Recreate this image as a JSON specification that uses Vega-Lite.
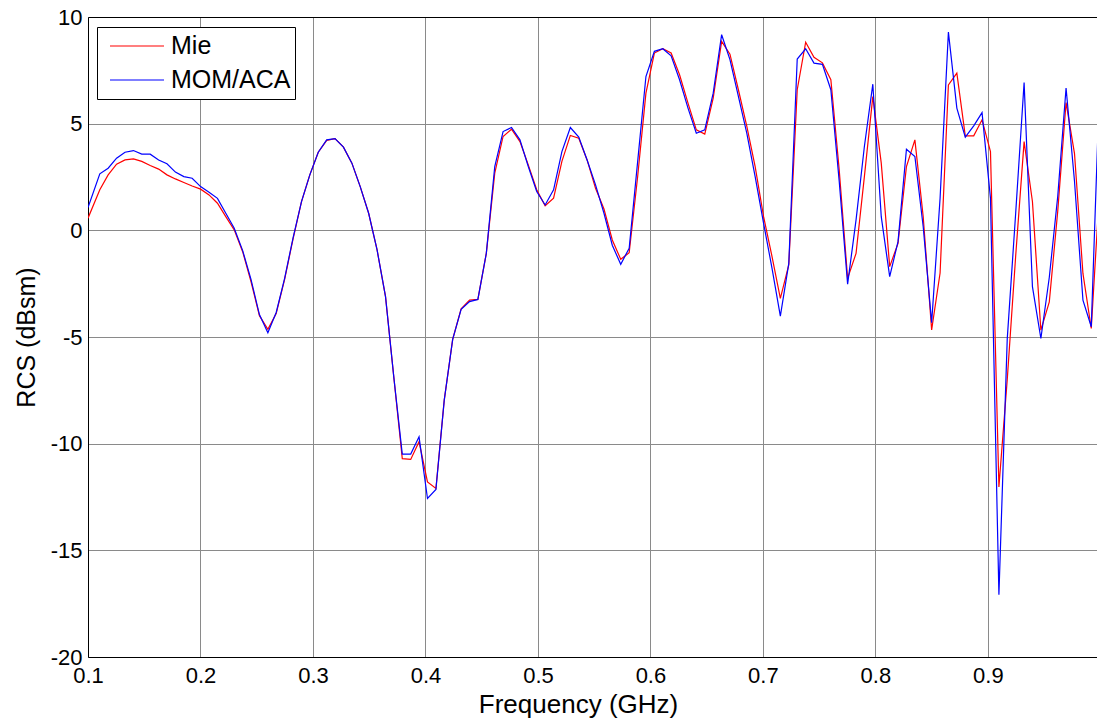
{
  "$schema": "https://vega.github.io/schema/vega-lite/v6.json",
  "width": 1009,
  "height": 640,
  "autosize": {"type": "none"},
  "padding": {"left": 88, "top": 17, "right": 0, "bottom": 64},
  "background": "white",
  "config": {"view": {"stroke": null}, "font": "Liberation Sans"},
  "data": {"values": [
    {"f": 0.1, "Mie": 0.57, "MOM/ACA": 1.07},
    {"f": 0.1105, "Mie": 1.9, "MOM/ACA": 2.65},
    {"f": 0.1179, "Mie": 2.6, "MOM/ACA": 2.91},
    {"f": 0.1254, "Mie": 3.1, "MOM/ACA": 3.38},
    {"f": 0.1329, "Mie": 3.3, "MOM/ACA": 3.66},
    {"f": 0.1404, "Mie": 3.35, "MOM/ACA": 3.74},
    {"f": 0.1478, "Mie": 3.23, "MOM/ACA": 3.57},
    {"f": 0.1553, "Mie": 3.04, "MOM/ACA": 3.57},
    {"f": 0.1628, "Mie": 2.87, "MOM/ACA": 3.3},
    {"f": 0.1702, "Mie": 2.6, "MOM/ACA": 3.12},
    {"f": 0.1777, "Mie": 2.41, "MOM/ACA": 2.73},
    {"f": 0.1852, "Mie": 2.24, "MOM/ACA": 2.52},
    {"f": 0.1926, "Mie": 2.08, "MOM/ACA": 2.44},
    {"f": 0.2001, "Mie": 1.93, "MOM/ACA": 2.05},
    {"f": 0.2076, "Mie": 1.66, "MOM/ACA": 1.79},
    {"f": 0.2151, "Mie": 1.27, "MOM/ACA": 1.5},
    {"f": 0.2225, "Mie": 0.64, "MOM/ACA": 0.8},
    {"f": 0.23, "Mie": 0.02, "MOM/ACA": 0.1},
    {"f": 0.2375, "Mie": -1.0, "MOM/ACA": -0.95},
    {"f": 0.2449, "Mie": -2.4, "MOM/ACA": -2.3},
    {"f": 0.2524, "Mie": -4.0, "MOM/ACA": -3.95},
    {"f": 0.2599, "Mie": -4.64, "MOM/ACA": -4.8},
    {"f": 0.2673, "Mie": -3.9, "MOM/ACA": -3.85},
    {"f": 0.2748, "Mie": -2.3, "MOM/ACA": -2.25},
    {"f": 0.2823, "Mie": -0.4, "MOM/ACA": -0.35},
    {"f": 0.2898, "Mie": 1.35, "MOM/ACA": 1.35},
    {"f": 0.2972, "Mie": 2.6, "MOM/ACA": 2.6},
    {"f": 0.3047, "Mie": 3.66, "MOM/ACA": 3.66},
    {"f": 0.3122, "Mie": 4.22, "MOM/ACA": 4.24},
    {"f": 0.3196, "Mie": 4.3, "MOM/ACA": 4.3},
    {"f": 0.3271, "Mie": 3.9, "MOM/ACA": 3.9},
    {"f": 0.3346, "Mie": 3.15, "MOM/ACA": 3.15},
    {"f": 0.342, "Mie": 2.05, "MOM/ACA": 2.05},
    {"f": 0.3495, "Mie": 0.8, "MOM/ACA": 0.8},
    {"f": 0.357, "Mie": -0.92, "MOM/ACA": -0.92},
    {"f": 0.3645, "Mie": -3.11, "MOM/ACA": -3.11},
    {"f": 0.3719, "Mie": -6.9, "MOM/ACA": -6.9},
    {"f": 0.3794, "Mie": -10.7, "MOM/ACA": -10.49},
    {"f": 0.3869, "Mie": -10.74, "MOM/ACA": -10.49},
    {"f": 0.3943, "Mie": -9.91, "MOM/ACA": -9.68},
    {"f": 0.4018, "Mie": -11.79, "MOM/ACA": -12.57},
    {"f": 0.4093, "Mie": -12.1, "MOM/ACA": -12.15},
    {"f": 0.4167, "Mie": -7.96, "MOM/ACA": -7.96},
    {"f": 0.4242, "Mie": -5.11, "MOM/ACA": -5.11},
    {"f": 0.4317, "Mie": -3.68, "MOM/ACA": -3.7},
    {"f": 0.4392, "Mie": -3.27, "MOM/ACA": -3.34},
    {"f": 0.4466, "Mie": -3.24, "MOM/ACA": -3.24},
    {"f": 0.4541, "Mie": -1.08, "MOM/ACA": -1.08},
    {"f": 0.4616, "Mie": 2.68, "MOM/ACA": 2.99},
    {"f": 0.469, "Mie": 4.4, "MOM/ACA": 4.63},
    {"f": 0.4765, "Mie": 4.74, "MOM/ACA": 4.82},
    {"f": 0.484, "Mie": 4.16, "MOM/ACA": 4.24},
    {"f": 0.4914, "Mie": 3.07, "MOM/ACA": 2.99},
    {"f": 0.4989, "Mie": 1.9, "MOM/ACA": 1.82},
    {"f": 0.5064, "Mie": 1.15, "MOM/ACA": 1.19},
    {"f": 0.5139, "Mie": 1.51, "MOM/ACA": 1.9},
    {"f": 0.5213, "Mie": 3.23, "MOM/ACA": 3.69},
    {"f": 0.5288, "Mie": 4.45, "MOM/ACA": 4.82},
    {"f": 0.5363, "Mie": 4.32, "MOM/ACA": 4.37},
    {"f": 0.5437, "Mie": 3.3, "MOM/ACA": 3.3},
    {"f": 0.5512, "Mie": 1.97, "MOM/ACA": 2.13},
    {"f": 0.5587, "Mie": 1.0, "MOM/ACA": 0.8},
    {"f": 0.5661, "Mie": -0.45, "MOM/ACA": -0.7},
    {"f": 0.5736, "Mie": -1.36, "MOM/ACA": -1.59},
    {"f": 0.5811, "Mie": -1.05, "MOM/ACA": -0.84},
    {"f": 0.5886, "Mie": 2.5, "MOM/ACA": 3.2},
    {"f": 0.596, "Mie": 6.43, "MOM/ACA": 7.21},
    {"f": 0.6035, "Mie": 8.31, "MOM/ACA": 8.39},
    {"f": 0.611, "Mie": 8.51, "MOM/ACA": 8.51},
    {"f": 0.6184, "Mie": 8.31, "MOM/ACA": 8.18},
    {"f": 0.6259, "Mie": 7.29, "MOM/ACA": 7.06},
    {"f": 0.6334, "Mie": 5.96, "MOM/ACA": 5.73},
    {"f": 0.6408, "Mie": 4.71, "MOM/ACA": 4.55},
    {"f": 0.6483, "Mie": 4.51, "MOM/ACA": 4.71},
    {"f": 0.6558, "Mie": 6.2, "MOM/ACA": 6.43},
    {"f": 0.6633, "Mie": 8.86, "MOM/ACA": 9.17},
    {"f": 0.6707, "Mie": 8.26, "MOM/ACA": 8.0},
    {"f": 0.6782, "Mie": 6.59, "MOM/ACA": 6.28},
    {"f": 0.6857, "Mie": 4.87, "MOM/ACA": 4.55},
    {"f": 0.6931, "Mie": 2.99, "MOM/ACA": 2.52},
    {"f": 0.7006, "Mie": 0.64, "MOM/ACA": 0.33},
    {"f": 0.7081, "Mie": -1.23, "MOM/ACA": -1.78},
    {"f": 0.7155, "Mie": -3.19, "MOM/ACA": -4.02},
    {"f": 0.723, "Mie": -1.62, "MOM/ACA": -1.55},
    {"f": 0.7305, "Mie": 6.59, "MOM/ACA": 8.03},
    {"f": 0.738, "Mie": 8.82, "MOM/ACA": 8.51},
    {"f": 0.7454, "Mie": 8.11, "MOM/ACA": 7.84},
    {"f": 0.7529, "Mie": 7.85, "MOM/ACA": 7.78},
    {"f": 0.7604, "Mie": 7.06, "MOM/ACA": 6.59},
    {"f": 0.7678, "Mie": 2.85, "MOM/ACA": 2.32},
    {"f": 0.7753, "Mie": -2.25, "MOM/ACA": -2.52},
    {"f": 0.7828, "Mie": -1.08, "MOM/ACA": 0.49},
    {"f": 0.7902, "Mie": 2.52, "MOM/ACA": 3.93},
    {"f": 0.7977, "Mie": 6.27, "MOM/ACA": 6.85},
    {"f": 0.8052, "Mie": 3.15, "MOM/ACA": 0.64},
    {"f": 0.8127, "Mie": -1.7, "MOM/ACA": -2.17},
    {"f": 0.8201, "Mie": -0.61, "MOM/ACA": -0.53},
    {"f": 0.8276, "Mie": 2.99, "MOM/ACA": 3.8},
    {"f": 0.8351, "Mie": 4.24, "MOM/ACA": 3.46},
    {"f": 0.8425, "Mie": 0.64, "MOM/ACA": 0.17},
    {"f": 0.85, "Mie": -4.67, "MOM/ACA": -4.33},
    {"f": 0.8575, "Mie": -2.0, "MOM/ACA": 1.5},
    {"f": 0.8649, "Mie": 6.82, "MOM/ACA": 9.29},
    {"f": 0.8724, "Mie": 7.37, "MOM/ACA": 5.73},
    {"f": 0.8799, "Mie": 4.43, "MOM/ACA": 4.37},
    {"f": 0.8874, "Mie": 4.43, "MOM/ACA": 4.9},
    {"f": 0.8948, "Mie": 5.18, "MOM/ACA": 5.52},
    {"f": 0.9023, "Mie": 3.69, "MOM/ACA": 1.5},
    {"f": 0.9098, "Mie": -12.03, "MOM/ACA": -17.08},
    {"f": 0.9172, "Mie": -7.0, "MOM/ACA": -5.1},
    {"f": 0.9247, "Mie": -1.2, "MOM/ACA": 0.8},
    {"f": 0.9322, "Mie": 4.16, "MOM/ACA": 6.93},
    {"f": 0.9396, "Mie": 1.35, "MOM/ACA": -2.64},
    {"f": 0.9471, "Mie": -4.68, "MOM/ACA": -5.07},
    {"f": 0.9546, "Mie": -3.35, "MOM/ACA": -2.2},
    {"f": 0.9621, "Mie": 0.9, "MOM/ACA": 1.6},
    {"f": 0.9695, "Mie": 5.99, "MOM/ACA": 6.67},
    {"f": 0.977, "Mie": 3.6, "MOM/ACA": 2.3},
    {"f": 0.9845, "Mie": -2.02, "MOM/ACA": -3.27},
    {"f": 0.9919, "Mie": -4.6, "MOM/ACA": -4.52},
    {"f": 0.9994, "Mie": 2.0, "MOM/ACA": 7.0}
  ]},
  "transform": [{"fold": ["Mie", "MOM/ACA"], "as": ["series", "rcs"]}],
  "layer": [
    {
      "mark": {"type": "line", "strokeWidth": 1.2, "clip": true},
      "encoding": {
        "x": {
          "field": "f", "type": "quantitative",
          "scale": {"domain": [0.1, 0.997], "nice": false, "zero": false},
          "axis": {
            "values": [0.1, 0.2, 0.3, 0.4, 0.5, 0.6, 0.7, 0.8, 0.9],
            "format": ".1f",
            "grid": true, "gridColor": "#8a8a8a", "gridOpacity": 1, "gridWidth": 1,
            "ticks": false,
            "domainColor": "black", "domainWidth": 1,
            "labelFont": "Liberation Sans", "labelFontSize": 22, "labelColor": "black",
            "labelPadding": 8, "labelFlush": false,
            "title": "Frequency (GHz)", "titleFont": "Liberation Sans", "titleFontSize": 26,
            "titleFontWeight": "normal", "titleColor": "black", "titlePadding": 5,
            "titleX": 490
          }
        },
        "y": {
          "field": "rcs", "type": "quantitative",
          "scale": {"domain": [-20, 10], "nice": false, "zero": false},
          "axis": {
            "values": [-20, -15, -10, -5, 0, 5, 10],
            "labelExpr": "'' + datum.value",
            "grid": true, "gridColor": "#8a8a8a", "gridOpacity": 1, "gridWidth": 1,
            "ticks": false,
            "domainColor": "black", "domainWidth": 1,
            "labelFont": "Liberation Sans", "labelFontSize": 22, "labelColor": "black",
            "labelPadding": 6, "labelFlush": false,
            "title": "RCS (dBsm)", "titleFont": "Liberation Sans", "titleFontSize": 25,
            "titleFontWeight": "normal", "titleColor": "black", "titlePadding": 11
          }
        },
        "color": {
          "field": "series", "type": "nominal",
          "scale": {"domain": ["Mie", "MOM/ACA"], "range": ["#ff0000", "#0000ff"]},
          "legend": {
            "orient": "none", "legendX": 9, "legendY": 10, "title": null,
            "symbolType": "stroke", "symbolSize": 2916, "symbolStrokeWidth": 1.2,
            "labelFont": "Liberation Sans", "labelFontSize": 25, "labelColor": "black",
            "strokeColor": "black", "fillColor": "white", "padding": 4,
            "clipHeight": 30, "rowPadding": 4, "symbolOffset": 8, "labelOffset": 6
          }
        }
      }
    },
    {
      "mark": {"type": "line", "opacity": 0},
      "encoding": {
        "x": {
          "field": "f", "type": "quantitative",
          "scale": {"domain": [0.1, 0.997], "nice": false, "zero": false},
          "axis": {"orient": "top", "labels": false, "ticks": false, "grid": false, "domainColor": "black", "title": null}
        },
        "y": {"field": "rcs", "type": "quantitative"}
      }
    }
  ],
  "resolve": {"scale": {"x": "independent"}}
}
